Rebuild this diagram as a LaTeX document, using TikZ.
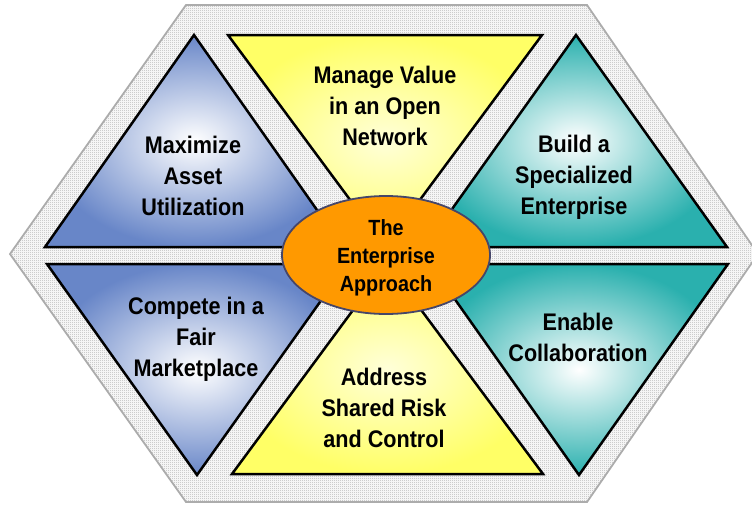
\documentclass[tikz,border=0pt]{standalone}
\usepackage{fontspec}
\setmainfont{Liberation Sans}[FakeStretch=0.9]
\usetikzlibrary{shapes.geometric,patterns}
\definecolor{blauton}{RGB}{104,134,200}
\definecolor{tuerkis}{RGB}{42,176,174}
\definecolor{gelbton}{RGB}{255,255,102}
\definecolor{orangeton}{RGB}{255,153,0}
\definecolor{randton}{RGB}{70,70,105}
% feines Karomuster fuer den Hintergrund
\pgfdeclarepatternformonly{feinkaro}{\pgfqpoint{0pt}{0pt}}{\pgfqpoint{2pt}{2pt}}{\pgfqpoint{2pt}{2pt}}{%
  \pgfpathrectangle{\pgfqpoint{0pt}{0pt}}{\pgfqpoint{1pt}{1pt}}%
  \pgfpathrectangle{\pgfqpoint{1pt}{1pt}}{\pgfqpoint{1pt}{1pt}}%
  \pgfusepath{fill}}

\begin{document}
\begin{tikzpicture}[x=1pt,y=-1pt,
    dreieck/.style = {draw=black, line width=2.5pt, line join=miter},
    blaudreieck/.style = {dreieck, inner color=white, outer color=blauton},
    gelbdreieck/.style = {dreieck, inner color=white!75!gelbton, outer color=gelbton},
    tuerkisdreieck/.style = {dreieck, inner color=white, outer color=tuerkis},
    schrift/.style = {align=center, inner sep=0pt, font=\fontsize{24}{31}\selectfont\bfseries}]
    \useasboundingbox (0,0) rectangle (752,504);

    % Sechseck mit grauem Karomuster als Hintergrund
    \fill[white] (10,254) -- (186,5) -- (587,5) -- (758,254) -- (587,502) -- (186,502) -- cycle;
    \draw[gray!65, line width=1.8pt, pattern=feinkaro, pattern color=gray!60]
        (10,254) -- (186,5) -- (587,5) -- (758,254) -- (587,502) -- (186,502) -- cycle;

    % Obere Reihe: drei Dreiecke
    \path[blaudreieck] (194,35) -- (343,247) -- (45,247) -- cycle;
    \path[gelbdreieck] (228,35) -- (542,35) -- (385,247) -- cycle;
    \path[tuerkisdreieck] (576,35) -- (727,247) -- (425,247) -- cycle;

    % Untere Reihe: drei Dreiecke
    \path[blaudreieck] (47,264) -- (347,264) -- (197,475) -- cycle;
    \path[gelbdreieck] (387,264) -- (543,474) -- (232,474) -- cycle;
    \path[tuerkisdreieck] (430,264) -- (728,264) -- (579,475) -- cycle;

    % Beschriftungen der Dreiecke
    \node[schrift] (T1) at (193,176) {Maximize\\Asset\\Utilization};
    \node[schrift] (T2) at (385,106) {Manage Value\\in an Open\\Network};
    \node[schrift] (T3) at (574,177) {Build a\\Specialized\\Enterprise};
    \node[schrift] (T4) at (196,339) {Compete in a\\Fair\\Marketplace};
    \node[schrift] (T5) at (578,337) {Enable\\Collaboration};
    \node[schrift] (T6) at (384,408) {Address\\Shared Risk\\and Control};

    % Ellipse in der Mitte mit Beschriftung
    \node[ellipse, draw=randton, line width=1.8pt, fill=orangeton, inner sep=0pt,
          minimum width=208pt, minimum height=118pt] (E) at (386,255) {};
    \node[schrift, font=\fontsize{22}{28}\selectfont\bfseries] (T7) at (386,258) {The\\Enterprise\\Approach};

\end{tikzpicture}
\end{document}
